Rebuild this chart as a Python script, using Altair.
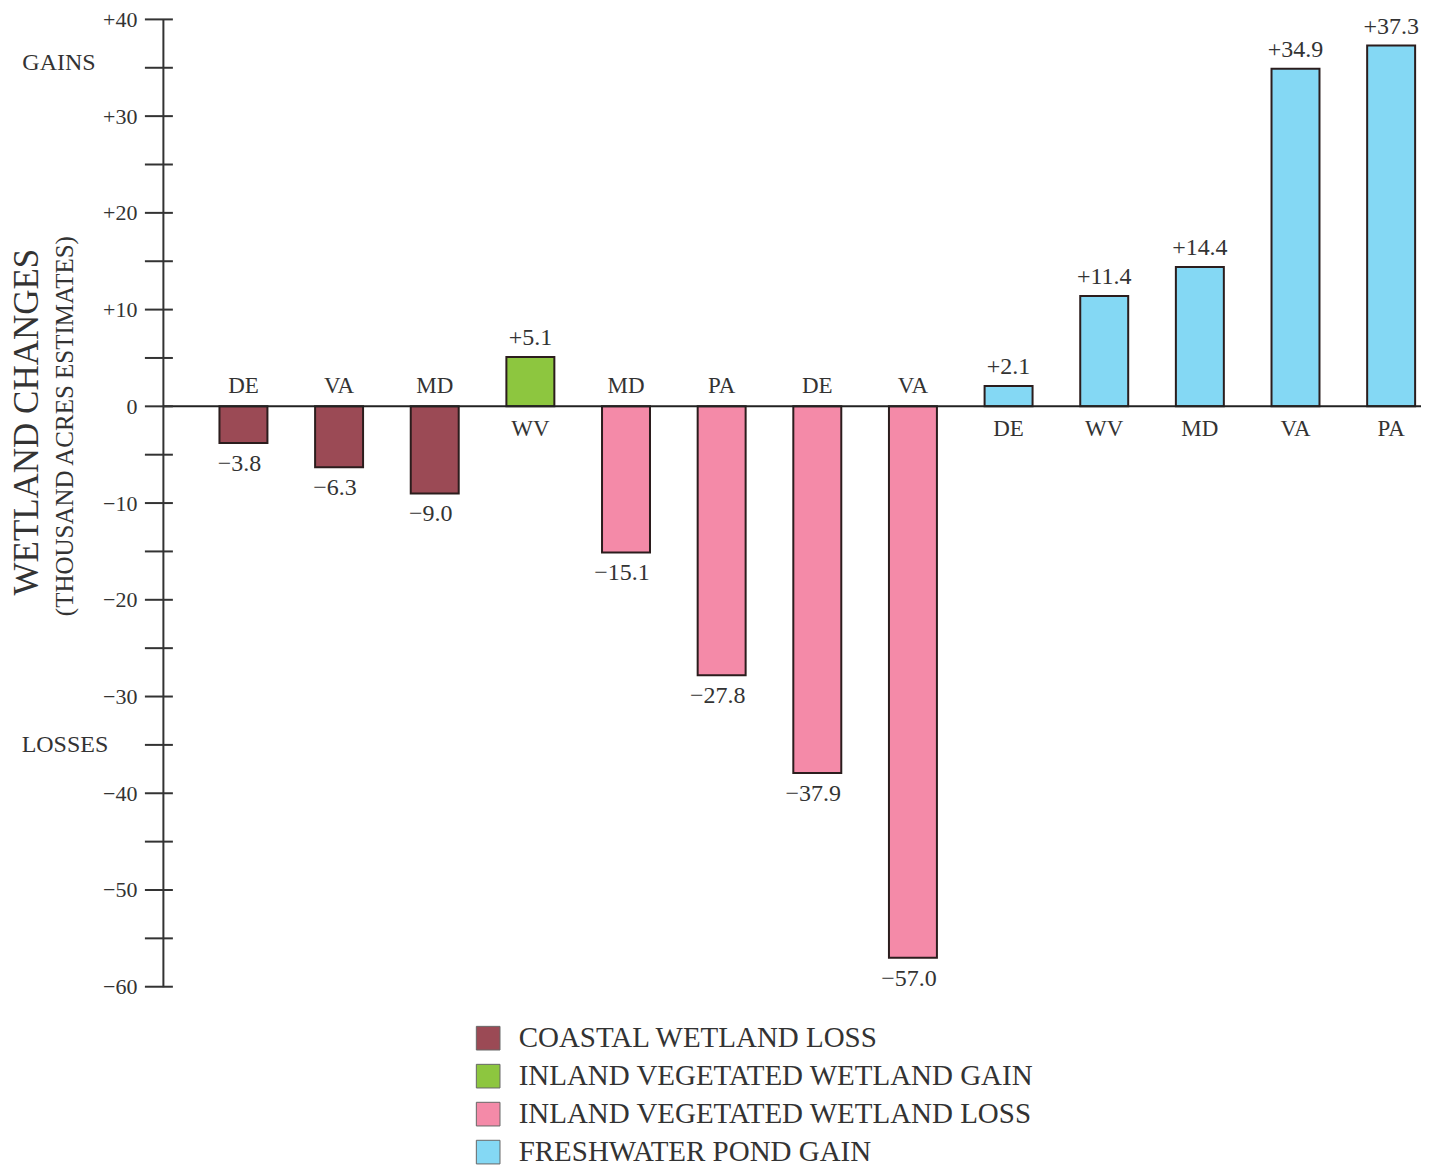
import altair as alt
import pandas as pd

# ---- data ----
states = ["DE", "VA", "MD", "WV", "MD", "PA", "DE", "VA", "DE", "WV", "MD", "VA", "PA"]
values = [-3.8, -6.3, -9.0, 5.1, -15.1, -27.8, -37.9, -57.0, 2.1, 11.4, 14.4, 34.9, 37.3]
categories = (["COASTAL WETLAND LOSS"] * 3
              + ["INLAND VEGETATED WETLAND GAIN"]
              + ["INLAND VEGETATED WETLAND LOSS"] * 4
              + ["FRESHWATER POND GAIN"] * 5)
legend_order = ["COASTAL WETLAND LOSS", "INLAND VEGETATED WETLAND GAIN",
                "INLAND VEGETATED WETLAND LOSS", "FRESHWATER POND GAIN"]
colors = ["#9b4a55", "#8dc63f", "#f48aa8", "#84d8f4"]
tick_values = list(range(-60, 41, 5))
label_values = list(range(-60, 41, 10))

FONT = "Liberation Serif"
TXT = "#333333"
W, H = 1259, 968
TOP = 11
OY = 8 + TOP  # page y of the plot area's top edge

df = pd.DataFrame({"idx": list(range(len(states))), "state": states,
                   "value": values, "category": categories})
df["label"] = [("+" if v > 0 else "\u2212") + f"{abs(v):.1f}" for v in values]
ticks = pd.DataFrame({"t": tick_values})
one = pd.DataFrame({"k": [0]})

x_scale = alt.Scale(domain=[-0.79, 12.26], nice=False, zero=False)
y_scale = alt.Scale(domain=[-60, 40], nice=False)

base = alt.Chart(df)

bars = base.mark_bar(size=48, stroke="#2b1d1d", strokeWidth=2).encode(
    x=alt.X("idx:Q", scale=x_scale, axis=None),
    y=alt.Y("value:Q", scale=y_scale,
            axis=alt.Axis(values=label_values, tickSize=0, grid=False, title=None,
                          domainColor="#333333", domainWidth=2,
                          labelFont=FONT, labelFontSize=22, labelColor=TXT,
                          labelPadding=26,
                          labelExpr="datum.value > 0 ? '+' + datum.value : (datum.value < 0 ? '\u2212' + abs(datum.value) : '0')")),
    color=alt.Color("category:N",
                    scale=alt.Scale(domain=legend_order, range=colors),
                    legend=alt.Legend(orient="none", legendX=311, legendY=1024 - OY,
                                      title=None, labelFont=FONT, labelFontSize=29,
                                      labelColor=TXT, symbolType="square",
                                      symbolSize=560, symbolStrokeColor="#666666",
                                      symbolStrokeWidth=1, symbolOpacity=1,
                                      rowPadding=8, labelOffset=16, labelLimit=1000)),
)

zero_line = alt.Chart(one).mark_rule(color="#222222", strokeWidth=2).encode(
    y=alt.datum(0), x=alt.value(0), x2=alt.value(W))

tick_marks = alt.Chart(ticks).mark_rule(color="#333333", strokeWidth=2).encode(
    y=alt.Y("t:Q", scale=y_scale), x=alt.value(-18), x2=alt.value(10))

neg = base.transform_filter("datum.value < 0")
pos = base.transform_filter("datum.value > 0")
st_kw = dict(font=FONT, fontSize=23, color=TXT)
val_kw = dict(font=FONT, fontSize=24, color=TXT)

state_neg = neg.mark_text(baseline="bottom", dy=-8, **st_kw).encode(
    x=alt.X("idx:Q", scale=x_scale), y=alt.datum(0), text="state:N")
state_pos = pos.mark_text(baseline="top", dy=12, **st_kw).encode(
    x=alt.X("idx:Q", scale=x_scale), y=alt.datum(0), text="state:N")
val_neg = neg.mark_text(baseline="top", dy=9, dx=-4, **val_kw).encode(
    x=alt.X("idx:Q", scale=x_scale), y=alt.Y("value:Q", scale=y_scale), text="label:N")
val_pos = pos.mark_text(baseline="bottom", dy=-7, **val_kw).encode(
    x=alt.X("idx:Q", scale=x_scale), y=alt.Y("value:Q", scale=y_scale), text="label:N")

title1 = alt.Chart(one).mark_text(text="WETLAND CHANGES", font=FONT, fontSize=35,
                                  angle=270, color=TXT).encode(
    x=alt.value(-136), y=alt.value(422 - OY))
title2 = alt.Chart(one).mark_text(text="(THOUSAND ACRES ESTIMATES)", font=FONT, fontSize=25,
                                  angle=270, color=TXT).encode(
    x=alt.value(-98), y=alt.value(426 - OY))
gains = alt.Chart(one).mark_text(text="GAINS", font=FONT, fontSize=24, color=TXT).encode(
    x=alt.value(-104), y=alt.value(63 - OY))
losses = alt.Chart(one).mark_text(text="LOSSES", font=FONT, fontSize=24, color=TXT).encode(
    x=alt.value(-98), y=alt.value(745 - OY))

chart = alt.layer(
    bars, zero_line, tick_marks, state_neg, state_pos, val_neg, val_pos,
    title1, title2, gains, losses
).properties(
    width=W, height=H, background="white",
    padding={"left": 155, "top": TOP, "right": 10, "bottom": 190},
    autosize=alt.AutoSizeParams(type="none"),
).configure_view(stroke=None)

chart.save("out.html", embed_options={"renderer": "svg", "actions": False})
